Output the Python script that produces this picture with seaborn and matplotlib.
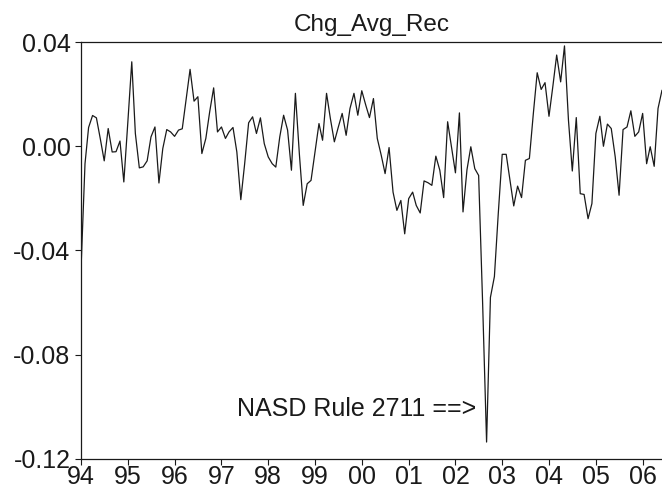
import pandas as pd
import seaborn as sns
import matplotlib.pyplot as plt
import matplotlib.dates as mdates
from matplotlib.ticker import FormatStrFormatter

# monthly change in average recommendation, Jan 1994 - Jun 2006
start_month = "1994-01-01"
chg_avg_rec = [
    -0.0470, -0.0067, 0.0072, 0.0118, 0.0109, 0.0027, -0.0056, 0.0068, -0.0022, -0.0021, 0.0020, -0.0137,
    0.0090, 0.0324, 0.0049, -0.0083, -0.0079, -0.0056, 0.0036, 0.0074, -0.0141, -0.0009, 0.0064, 0.0055,
    0.0038, 0.0062, 0.0067, 0.0183, 0.0295, 0.0173, 0.0190, -0.0028, 0.0030, 0.0132, 0.0224, 0.0055,
    0.0074, 0.0030, 0.0055, 0.0072, -0.0022, -0.0205, -0.0067, 0.0090, 0.0113, 0.0049, 0.0109, 0.0010,
    -0.0041, -0.0067, -0.0080, 0.0036, 0.0119, 0.0062, -0.0092, 0.0203, -0.0030, -0.0227, -0.0144, -0.0131,
    -0.0022, 0.0087, 0.0023, 0.0203, 0.0106, 0.0017, 0.0072, 0.0126, 0.0042, 0.0145, 0.0203, 0.0119,
    0.0213, 0.0158, 0.0110, 0.0183, 0.0030, -0.0035, -0.0105, -0.0005, -0.0176, -0.0246, -0.0208, -0.0336,
    -0.0201, -0.0176, -0.0227, -0.0256, -0.0133, -0.0140, -0.0150, -0.0038, -0.0092, -0.0197, 0.0094, -0.0002,
    -0.0102, 0.0128, -0.0252, -0.0090, -0.0002, -0.0086, -0.0112, -0.0600, -0.1135, -0.0580, -0.0500, -0.0260,
    -0.0031, -0.0031, -0.0124, -0.0229, -0.0153, -0.0197, -0.0054, -0.0047, 0.0126, 0.0282, 0.0218, 0.0244,
    0.0115, 0.0233, 0.0350, 0.0247, 0.0385, 0.0100, -0.0095, 0.0110, -0.0182, -0.0185, -0.0278, -0.0220,
    0.0049, 0.0115, 0.0000, 0.0085, 0.0068, -0.0041, -0.0188, 0.0064, 0.0074, 0.0136, 0.0038, 0.0055,
    0.0126, -0.0067, -0.0002, -0.0077, 0.0145, 0.0215,
]
y_ticks = [-0.12, -0.08, -0.04, 0.00, 0.04]
note_text = "NASD Rule 2711 ==>"

df = pd.DataFrame({
    "date": pd.date_range(start_month, periods=len(chg_avg_rec), freq="MS"),
    "chg": chg_avg_rec,
})

sns.set_style("ticks")
plt.rcParams["font.family"] = ["Liberation Sans", "DejaVu Sans"]

fig = plt.figure(figsize=(6.62, 4.93), dpi=100)
ax = fig.add_axes([0.1224, 0.069, 0.8776, 0.8458])

sns.lineplot(data=df, x="date", y="chg", ax=ax, color="#1a1a1a", linewidth=0.9)

ax.set_xlim(df["date"].iloc[0], df["date"].iloc[-1])
ax.set_ylim(-0.12, 0.04)
ax.set_yticks(y_ticks)
ax.yaxis.set_major_formatter(FormatStrFormatter("%.2f"))
ax.xaxis.set_major_locator(mdates.YearLocator())
ax.xaxis.set_major_formatter(mdates.DateFormatter("%y"))

ax.tick_params(axis="both", direction="out", length=4.5, width=0.8,
               labelsize=18, colors="#1a1a1a")
ax.tick_params(axis="x", pad=0)
ax.tick_params(axis="y", pad=3)
ax.set_xlabel("")
ax.set_ylabel("")
ax.set_title("Chg_Avg_Rec", fontsize=17.5, pad=8, color="#1a1a1a")

for side in ["left", "top", "bottom"]:
    ax.spines[side].set_linewidth(0.9)
    ax.spines[side].set_color("#1a1a1a")
ax.spines["right"].set_visible(False)

ax.text(pd.Timestamp("2002-06-15"), -0.1008, note_text, ha="right", va="center",
        fontsize=18, color="#1a1a1a")

fig.savefig("out.png", dpi=100)
